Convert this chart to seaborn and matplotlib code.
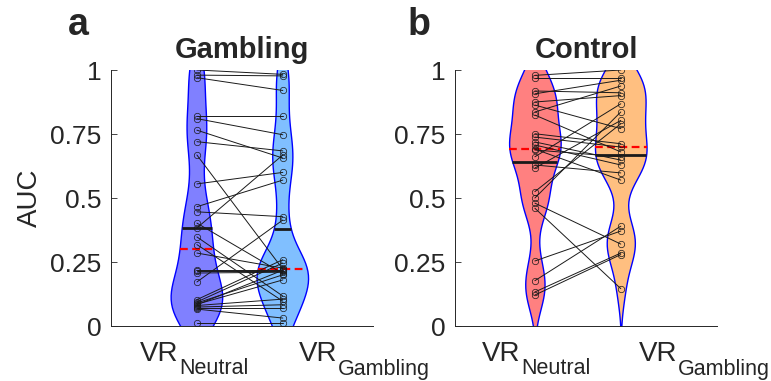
import numpy as np
import pandas as pd
import matplotlib
matplotlib.use("Agg")
import matplotlib.pyplot as plt
import seaborn as sns

# ---------------- data (paired by subject) ----------------
gambling_neutral = [1.0, 0.98, 0.97, 0.82, 0.81, 0.765, 0.72, 0.668, 0.555, 0.466,
                    0.446, 0.402, 0.383, 0.348, 0.318, 0.285, 0.22, 0.215, 0.207, 0.172,
                    0.103, 0.094, 0.09, 0.085, 0.083, 0.08, 0.074, 0.07, 0.066, 0.012]
gambling_gambling = [0.983, 0.977, 0.92, 0.82, 0.747, 0.656, 0.684, 0.222, 0.6, 0.57,
                     0.427, 0.205, 0.668, 0.117, 0.097, 0.226, 0.22, 0.215, 0.21, 0.414,
                     0.259, 0.246, 0.2, 0.18, 0.218, 0.105, 0.083, 0.07, 0.031, 0.012]
control_neutral = [0.979, 0.969, 0.918, 0.907, 0.875, 0.863, 0.836, 0.824, 0.751, 0.738,
                   0.719, 0.707, 0.691, 0.6875, 0.661, 0.629, 0.617, 0.525, 0.5, 0.48,
                   0.46, 0.254, 0.177, 0.133, 0.121]
control_gambling = [1.0, 0.969, 0.911, 0.96, 0.9, 0.771, 0.9375, 0.68, 0.712, 0.699,
                    0.648, 0.629, 0.57, 0.661, 0.868, 0.598, 0.803, 0.79, 0.836, 0.32,
                    0.146, 0.371, 0.39, 0.285, 0.279]

conditions = ["Neutral", "Gambling"]
positions = [1, 2]
xtick_main = ["VR", "VR"]
xtick_sub = ["Neutral", "Gambling"]
yticks = [0, 0.25, 0.5, 0.75, 1]
ytick_labels = ["0", "0.25", "0.5", "0.75", "1"]
panel_titles = ["Gambling", "Control"]
panel_letters = ["a", "b"]
gambling_colors = ["#8080ff", "#80bfff"]
control_colors = ["#ff8080", "#ffbf80"]

# ---------------- style ----------------
sns.set_theme(style="ticks")
plt.rcParams["font.family"] = ["Liberation Sans", "DejaVu Sans"]
dark = (0.15, 0.15, 0.15)
PX = 0.72  # points per pixel at 100 dpi

fig = plt.figure(figsize=(7.71, 3.81), dpi=100)
ax1 = fig.add_axes([111 / 771, 55 / 381, 262 / 771, 256 / 381])
ax2 = fig.add_axes([455 / 771, 55 / 381, 262 / 771, 256 / 381])


def long_df(neu, gam):
    n = len(neu)
    return pd.DataFrame({
        "subject": list(range(n)) * 2,
        "pos": [positions[0]] * n + [positions[1]] * n,
        "cond": [conditions[0]] * n + [conditions[1]] * n,
        "auc": list(neu) + list(gam),
    })


def poly_extent(verts, y):
    xs = []
    for (x0, y0), (x1, y1) in zip(verts[:-1], verts[1:]):
        if y0 == y1:
            continue
        if (y0 - y) * (y1 - y) <= 0:
            xs.append(x0 + (y - y0) * (x1 - x0) / (y1 - y0))
    return min(xs), max(xs)


def panel(ax, neu, gam, colors, title, letter, xlim, show_ylabel, letter_x, label_dx):
    df = long_df(neu, gam)
    n_before = len(ax.collections)
    sns.violinplot(data=df, x="pos", y="auc", hue="cond", hue_order=conditions,
                   palette=colors, native_scale=True, dodge=False, inner=None,
                   density_norm="area", common_norm=False, cut=3,
                   bw_method="scott", bw_adjust=0.6, width=0.6, saturation=1,
                   linecolor="blue", linewidth=1.0, legend=False, ax=ax)
    violins = ax.collections[n_before:]
    for coll in violins:
        verts = coll.get_paths()[0].vertices
        cx = (verts[:, 0].min() + verts[:, 0].max()) / 2
        vals = df.loc[np.isclose(df["pos"], round(cx)), "auc"].to_numpy()
        m, md = vals.mean(), np.median(vals)
        xl, xr = poly_extent(verts, m)
        ax.plot([xl, xr], [m, m], color="k", lw=2, solid_capstyle="butt", zorder=3)
        xl, xr = poly_extent(verts, md)
        ax.plot([xl, xr], [md, md], color="red", lw=1.6, ls=(0, (3.5, 2)),
                dash_capstyle="butt", zorder=3)
    sns.lineplot(data=df, x="pos", y="auc", units="subject", estimator=None,
                 sort=False, color="k", linewidth=0.7, marker="o", markersize=4.6,
                 markerfacecolor="none", markeredgecolor=(0.1, 0.1, 0.1),
                 markeredgewidth=0.5, legend=False, ax=ax, zorder=4)
    ax.set_xlim(*xlim)
    ax.set_ylim(0, 1)
    ax.set_xticks(positions)
    ax.set_xticklabels(["", ""])
    ax.set_yticks(yticks)
    ax.set_yticklabels(ytick_labels)
    ax.set_xlabel("")
    ax.set_ylabel("AUC" if show_ylabel else "", fontsize=20, color=dark)
    ax.yaxis.set_label_coords(-0.26, 0.5)
    ax.tick_params(axis="both", direction="in", length=4, width=0.6, color=dark,
                   labelsize=19, labelcolor=dark)
    ax.tick_params(axis="y", pad=7)
    sns.despine(ax=ax)
    for s in ("left", "bottom"):
        ax.spines[s].set_color(dark)
        ax.spines[s].set_linewidth(0.7)
    ax.set_title(title, fontsize=21, fontweight="bold", pad=9)
    fig.text(letter_x, 1 - 35 / 381, letter, fontsize=27, fontweight="bold",
             ha="left", va="baseline")
    # x tick labels with enlarged subscripts (MATLAB TeX style)
    for p, main, sub, dx in zip(positions, xtick_main, xtick_sub, label_dx):
        t1 = ax.annotate(main, xy=(p, 0), xycoords=("data", "axes fraction"),
                         xytext=(dx * PX, -35 * PX), textcoords="offset points",
                         ha="left", va="baseline", fontsize=20, color=dark,
                         annotation_clip=False)
        ax.annotate(sub, xy=(1, 0), xycoords=t1, xytext=(0.3, -7.5 * PX),
                    textcoords="offset points", ha="left", va="baseline",
                    fontsize=15.5, color=dark, annotation_clip=False)


panel(ax1, gambling_neutral, gambling_gambling, gambling_colors, panel_titles[0],
      panel_letters[0], (0.0, 3.05), True, 68 / 771, (-57, 16))
panel(ax2, control_neutral, control_gambling, control_colors, panel_titles[1],
      panel_letters[1], (0.07, 3.12), False, 408 / 771, (-53, 18))

fig.savefig("out.png", dpi=100)
